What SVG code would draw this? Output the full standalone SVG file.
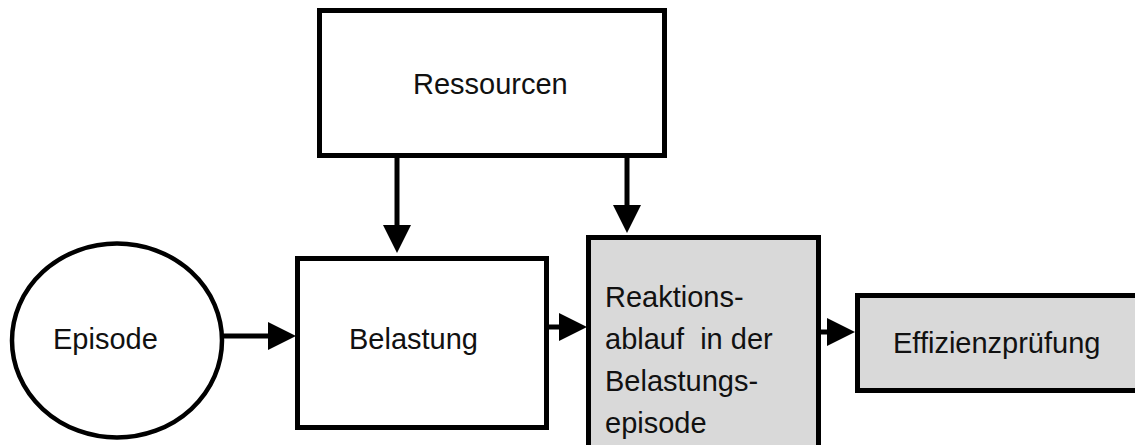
<svg xmlns="http://www.w3.org/2000/svg" width="1135" height="445" viewBox="0 0 1135 445">
<style>
.box{stroke:#000;stroke-width:5;}
.white{fill:#fff;}
.gray{fill:#d9d9d9;}
.lbl{font-family:"Liberation Sans",Arial,sans-serif;font-size:29px;fill:#111;white-space:pre;}
.conn{stroke:#000;stroke-width:5;fill:none;marker-end:url(#ah);}
</style>
<defs>
<marker id="ah" markerUnits="userSpaceOnUse" markerWidth="28" markerHeight="28" refX="0" refY="14" orient="auto" viewBox="0 0 28 28">
<path d="M0,0 L28,14 L0,28 z" fill="#000"/>
</marker>
</defs>
<rect width="1135" height="445" fill="#fff"/>
<g id="ressourcen">
<rect class="box white" x="319.5" y="10.5" width="345" height="145"/>
<text class="lbl" x="413" y="94">Ressourcen</text>
</g>
<g id="episode">
<ellipse class="box white" cx="117" cy="340.5" rx="105" ry="97" style="stroke-width:4.5"/>
<text class="lbl" x="53" y="349">Episode</text>
</g>
<g id="belastung">
<rect class="box white" x="297.5" y="258.5" width="249" height="169"/>
<text class="lbl" x="349" y="349">Belastung</text>
</g>
<g id="reaktionsablauf">
<rect class="box gray" x="588.5" y="237.5" width="230" height="230"/>
<text class="lbl" x="605" y="307">Reaktions-</text>
<text class="lbl" x="605" y="349">ablauf  in der</text>
<text class="lbl" x="605" y="391">Belastungs-</text>
<text class="lbl" x="605" y="433">episode</text>
</g>
<g id="effizienzpruefung">
<rect class="box gray" x="857.5" y="295.5" width="300" height="95"/>
<text class="lbl" x="893" y="353">Effizienzprüfung</text>
</g>
<g id="connectors">
<line class="conn" x1="222" y1="336" x2="268" y2="336"/>
<line class="conn" x1="546" y1="327" x2="559" y2="327"/>
<line class="conn" x1="818" y1="332" x2="827" y2="332"/>
<line class="conn" x1="397" y1="156" x2="397" y2="225"/>
<line class="conn" x1="627" y1="156" x2="627" y2="205"/>
</g>
</svg>
